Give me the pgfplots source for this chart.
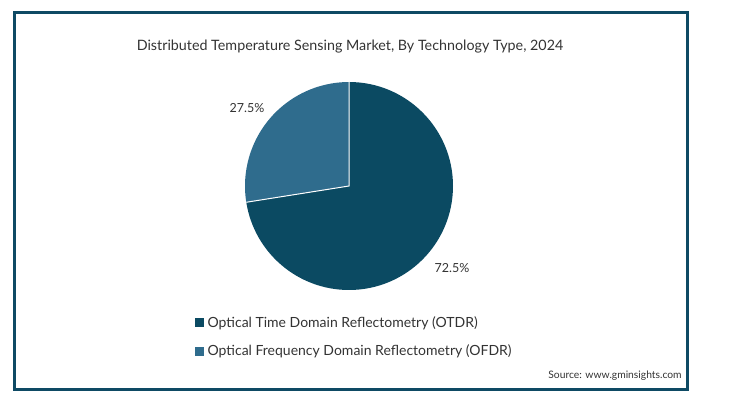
\documentclass[border=0pt]{standalone}
\usepackage{pgfplots}
\pgfplotsset{compat=1.18}
\usepackage{pgfplotstable}
\usepackage{fontspec}
\setmainfont{Lato}
\definecolor{otdr}{HTML}{0B4A62}
\definecolor{ofdr}{HTML}{2F6C8D}
\definecolor{framec}{HTML}{0E4A64}
\definecolor{txt}{HTML}{333333}
\pgfplotstableread{
tech share
OTDR 72.5
OFDR 27.5
}\piedata
\begin{document}
\begin{tikzpicture}[x=1pt,y=1pt]
\pgfplotstablegetelem{0}{share}\of\piedata \let\sa=\pgfplotsretval
\pgfplotstablegetelem{1}{share}\of\piedata \let\sb=\pgfplotsretval
\pgfmathsetmacro{\ea}{90-3.6*\sa}
\pgfmathsetmacro{\eb}{\ea-3.6*\sb}
\pgfmathsetmacro{\xa}{104*cos(\ea)}
\pgfmathsetmacro{\ya}{104*sin(\ea)}
\useasboundingbox (0,0) rectangle (732,397);
\draw[line width=3pt, framec] (14.5,384.5) rectangle (687.5,7.5);
\node[txt, font=\fontsize{14.3}{17}\selectfont] at (350,350) {Distributed Temperature Sensing Market, By Technology Type, 2024};
\node[txt, font=\fontsize{10.3}{12}\selectfont] at (615,21) {Source: www.gminsights.com};
\begin{axis}[
  at={(349,211)}, anchor=origin,
  x=1pt, y=1pt,
  xmin=-110, xmax=110, ymin=-110, ymax=110,
  hide axis, clip=false,
  legend style={at={(axis cs:-157,-126)}, anchor=north west, draw=none, fill=none,
    font=\fontsize{14}{17}\selectfont, text=txt, row sep=12pt, column sep=2pt,
    cells={anchor=west}},
  legend image code/.code={\fill[#1] (0pt,-4pt) rectangle (8pt,4pt);},
]
\addlegendimage{otdr}
\addlegendentry{Optical Time Domain Reflectometry (OTDR)}
\addlegendimage{ofdr}
\addlegendentry{Optical Frequency Domain Reflectometry (OFDR)}
\fill[otdr] (axis cs:0,0) -- (axis cs:0,104) arc[start angle=90, end angle=\ea, radius=104pt] -- cycle;
\fill[ofdr] (axis cs:0,0) -- (axis cs:\xa,\ya) arc[start angle=\ea, end angle=\eb, radius=104pt] -- cycle;
\draw[white, line width=1pt] (axis cs:\xa,\ya) -- (axis cs:0,0) -- (axis cs:0,104);
\node[txt, font=\fontsize{12.5}{15}\selectfont] at (axis cs:-102,78) {27.5\%};
\node[txt, font=\fontsize{12.5}{15}\selectfont] at (axis cs:103,-82) {72.5\%};
\end{axis}
\end{tikzpicture}
\end{document}
